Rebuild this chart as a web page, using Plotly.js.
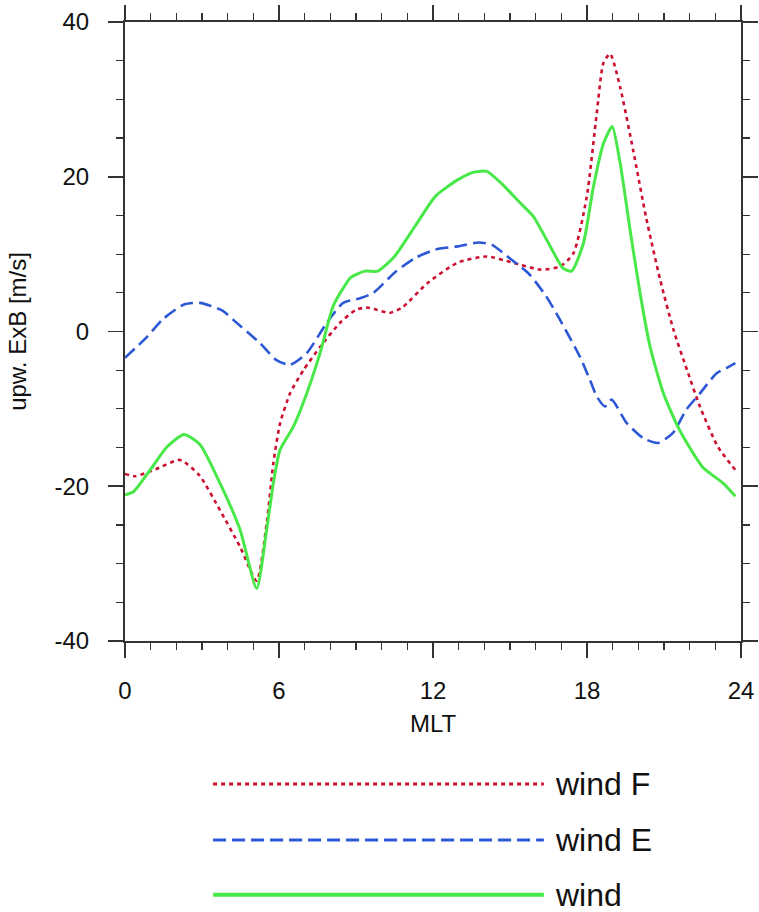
<!DOCTYPE html>
<html>
<head>
<meta charset="utf-8">
<script src="https://cdn.plot.ly/plotly-3.0.1.min.js"></script>
<style>html,body{margin:0;padding:0;background:#fff;}#chart{width:759px;height:912px;}</style>
</head>
<body>
<div id="chart"></div>
<script>
// ---- data ----
const windF_x = [0,0.4,1.2,2.14,2.9,3.7,4.48,5.13,5.52,5.78,6.04,6.43,6.95,7.6,8.37,9.0,9.4,9.7,10.3,10.8,11.8,12.96,14.1,15.1,16.2,16.95,17.47,17.99,18.38,18.64,18.9,19.29,19.8,20.3,20.85,21.37,21.9,22.4,23.1,23.78];
const windF_y = [-18.4,-18.7,-17.8,-16.6,-18.6,-23.1,-27.8,-32.2,-24.8,-17.0,-11.9,-8.0,-5.0,-2.0,1.1,2.8,3.1,2.9,2.4,3.1,6.3,8.9,9.7,8.9,8.0,8.4,10.1,17.4,28.2,34.7,35.9,31.6,23.4,14.8,6.7,0.2,-5.0,-9.7,-14.9,-17.9];

const windE_x = [0,0.83,1.48,2.3,2.92,3.8,4.22,5.26,5.9,6.43,7.08,7.86,8.5,9.15,9.68,10.5,11.3,12.1,12.96,13.78,14.3,14.9,15.75,16.4,16.95,17.73,18.12,18.38,18.7,18.96,19.54,20.2,20.77,21.35,21.87,22.4,23.05,23.5,23.78];
const windE_y = [-3.4,-0.8,1.6,3.5,3.7,2.7,1.5,-1.5,-3.7,-4.3,-2.8,1.1,3.7,4.3,5.0,7.6,9.5,10.6,11.0,11.5,11.2,9.7,7.4,4.6,1.5,-3.3,-6.3,-8.4,-9.7,-8.8,-11.8,-13.8,-14.4,-13.1,-10.1,-8.0,-5.4,-4.6,-4.1];

const wind_x = [0,0.33,0.98,1.64,2.3,2.92,3.7,4.48,5.13,5.52,5.78,6.04,6.56,7.08,7.6,8.1,8.5,8.8,9.35,9.85,10.5,11.3,12.1,12.96,13.6,14.1,14.77,15.4,15.9,16.57,17.06,17.4,17.86,18.25,18.64,18.98,19.29,19.68,20.07,20.46,20.98,21.6,22.5,23.3,23.78];
const wind_y = [-21.1,-20.7,-17.9,-14.9,-13.3,-14.6,-19.6,-25.6,-33.2,-25.6,-19.6,-15.3,-12.3,-8.0,-2.8,3.2,5.6,7.0,7.8,7.8,9.7,13.6,17.5,19.6,20.6,20.7,18.8,16.6,14.9,11.0,8.2,7.8,11.4,18.7,24.3,26.5,21.8,13.1,4.9,-2.0,-8.0,-12.7,-17.5,-19.6,-21.3];

const seriesNames = ['wind F','wind E','wind'];
const xTickVals = [0,6,12,18,24];
const xTickText = ['0','6','12','18','24'];
const yTickVals = [-40,-20,0,20,40];
const yTickText = ['-40','-20','0','20','40'];

// ---- styles ----
const colors = ['#cc1030','#2c58d6','#48e848'];
const dashes = ['4px,4px','13px,6px','solid'];
const widths = [2.6,2.6,3];
const FONT = 'Liberation Sans, Arial, Helvetica, sans-serif';

const xs = [windF_x, windE_x, wind_x];
const ys = [windF_y, windE_y, wind_y];
const traces = xs.map((x,i)=>({
  x:x, y:ys[i], name:seriesNames[i], type:'scatter', mode:'lines',
  line:{color:colors[i], dash:dashes[i], width:widths[i], shape:'spline', smoothing:0.6},
  showlegend:false, hoverinfo:'skip'
}));

// manual legend below the plot (paper coordinates)
const legY = [-0.231,-0.3215,-0.410];
const shapes = legY.map((y,i)=>({
  type:'line', xref:'paper', yref:'paper', x0:0.143, x1:0.680, y0:y, y1:y,
  line:{color:colors[i], dash:dashes[i], width:i===2?4:3}
}));
const annotations = legY.map((y,i)=>({
  xref:'paper', yref:'paper', x:0.695, y:y, xanchor:'left', yanchor:'middle',
  text:seriesNames[i], showarrow:false, font:{family:FONT, size:32, color:'#111'}
}));

const axisCommon = {
  showline:true, linecolor:'#333', linewidth:2, mirror:'ticks',
  ticks:'outside', ticklen:15, tickwidth:1.6, tickcolor:'#333',
  showgrid:false, zeroline:false,
  tickfont:{family:FONT, size:24, color:'#111'}
};

const layout = {
  width:759, height:912,
  margin:{l:125, r:18, t:22, b:271},
  paper_bgcolor:'#fff', plot_bgcolor:'#fff',
  font:{family:FONT, color:'#111'},
  xaxis:Object.assign({}, axisCommon, {
    range:[0,24], tickmode:'array', tickvals:xTickVals, ticktext:xTickText,
    minor:{dtick:1, ticks:'outside', ticklen:7, tickwidth:1.2, tickcolor:'#333'},
    ticklabelstandoff:12,
    title:{text:'MLT', font:{family:FONT, size:24, color:'#111'}, standoff:12}
  }),
  yaxis:Object.assign({}, axisCommon, {
    range:[-40,40], tickmode:'array', tickvals:yTickVals, ticktext:yTickText,
    minor:{dtick:5, ticks:'outside', ticklen:7, tickwidth:1.2, tickcolor:'#333'},
    ticklabelstandoff:14,
    title:{text:'upw. ExB [m/s]', font:{family:FONT, size:24, color:'#111'}, standoff:21}
  }),
  shapes:shapes, annotations:annotations
};

Plotly.newPlot('chart', traces, layout, {staticPlot:true, displayModeBar:false});
</script>
</body>
</html>
